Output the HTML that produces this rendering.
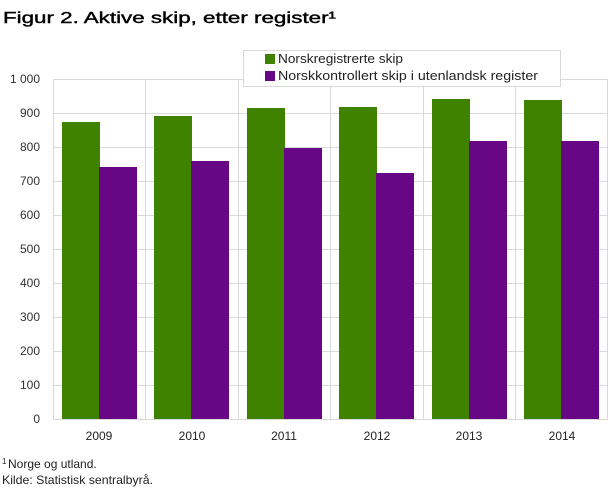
<!DOCTYPE html><html><head><style>body{margin:0;background:#fff;font-family:"Liberation Sans",sans-serif}</style></head><body>
<svg width="608" height="487" xmlns="http://www.w3.org/2000/svg" font-family="Liberation Sans, sans-serif">
<text x="3" y="23" font-size="16" fill="#000" stroke="#000" stroke-width="0.4" textLength="333" lengthAdjust="spacingAndGlyphs">Figur 2. Aktive skip, etter register¹</text>
<g stroke="#d9d9d9" stroke-width="1">
<line x1="53" y1="79.5" x2="608" y2="79.5"/><line x1="53" y1="113.5" x2="608" y2="113.5"/><line x1="53" y1="147.5" x2="608" y2="147.5"/><line x1="53" y1="181.5" x2="608" y2="181.5"/><line x1="53" y1="215.5" x2="608" y2="215.5"/><line x1="53" y1="249.5" x2="608" y2="249.5"/><line x1="53" y1="283.5" x2="608" y2="283.5"/><line x1="53" y1="317.5" x2="608" y2="317.5"/><line x1="53" y1="351.5" x2="608" y2="351.5"/><line x1="53" y1="385.5" x2="608" y2="385.5"/><line x1="53" y1="419.5" x2="608" y2="419.5"/>
<line x1="53.5" y1="79" x2="53.5" y2="420"/><line x1="145.5" y1="79" x2="145.5" y2="420"/><line x1="238.5" y1="79" x2="238.5" y2="420"/><line x1="330.5" y1="79" x2="330.5" y2="420"/><line x1="423.5" y1="79" x2="423.5" y2="420"/><line x1="515.5" y1="79" x2="515.5" y2="420"/><line x1="607.5" y1="79" x2="607.5" y2="420"/>
</g>
<g font-size="12" fill="#333" text-anchor="end">
<text x="40" y="83">1 000</text><text x="40" y="117">900</text><text x="40" y="151">800</text><text x="40" y="185">700</text><text x="40" y="219">600</text><text x="40" y="253">500</text><text x="40" y="287">400</text><text x="40" y="321">300</text><text x="40" y="355">200</text><text x="40" y="389">100</text><text x="40" y="423">0</text>
</g>
<g fill="#3e8200">
<rect x="62" y="122" width="38" height="297"/><rect x="154" y="116" width="38" height="303"/><rect x="247" y="108" width="38" height="311"/><rect x="339" y="107" width="38" height="312"/><rect x="432" y="99" width="38" height="320"/><rect x="524" y="100" width="38" height="319"/>
</g>
<g fill="#680785">
<rect x="99" y="167" width="38" height="252"/><rect x="191" y="161" width="38" height="258"/><rect x="284" y="148" width="38" height="271"/><rect x="376" y="173" width="38" height="246"/><rect x="469" y="141" width="38" height="278"/><rect x="561" y="141" width="38" height="278"/>
</g>
<g font-size="12" fill="#222" text-anchor="middle">
<text x="99" y="440">2009</text><text x="192" y="440">2010</text><text x="284" y="440">2011</text><text x="377" y="440">2012</text><text x="469" y="440">2013</text><text x="562" y="440">2014</text>
</g>
<rect x="243.5" y="50.5" width="317" height="36" fill="#fff" stroke="#d9d9d9"/>
<rect x="265" y="54" width="10" height="10" fill="#3e8200"/><text x="278" y="63" font-size="13" fill="#222" textLength="125" lengthAdjust="spacingAndGlyphs">Norskregistrerte skip</text>
<rect x="265" y="71" width="10" height="10" fill="#680785"/><text x="278" y="80" font-size="13" fill="#222" textLength="260" lengthAdjust="spacingAndGlyphs">Norskkontrollert skip i utenlandsk register</text>
<text x="2" y="468" font-size="12" fill="#222"><tspan font-size="8" dy="-4">1</tspan><tspan dy="4" x="8">Norge og utland.</tspan></text>
<text x="2" y="484" font-size="12" fill="#222" textLength="151" lengthAdjust="spacingAndGlyphs">Kilde: Statistisk sentralbyrå.</text>
</svg></body></html>
